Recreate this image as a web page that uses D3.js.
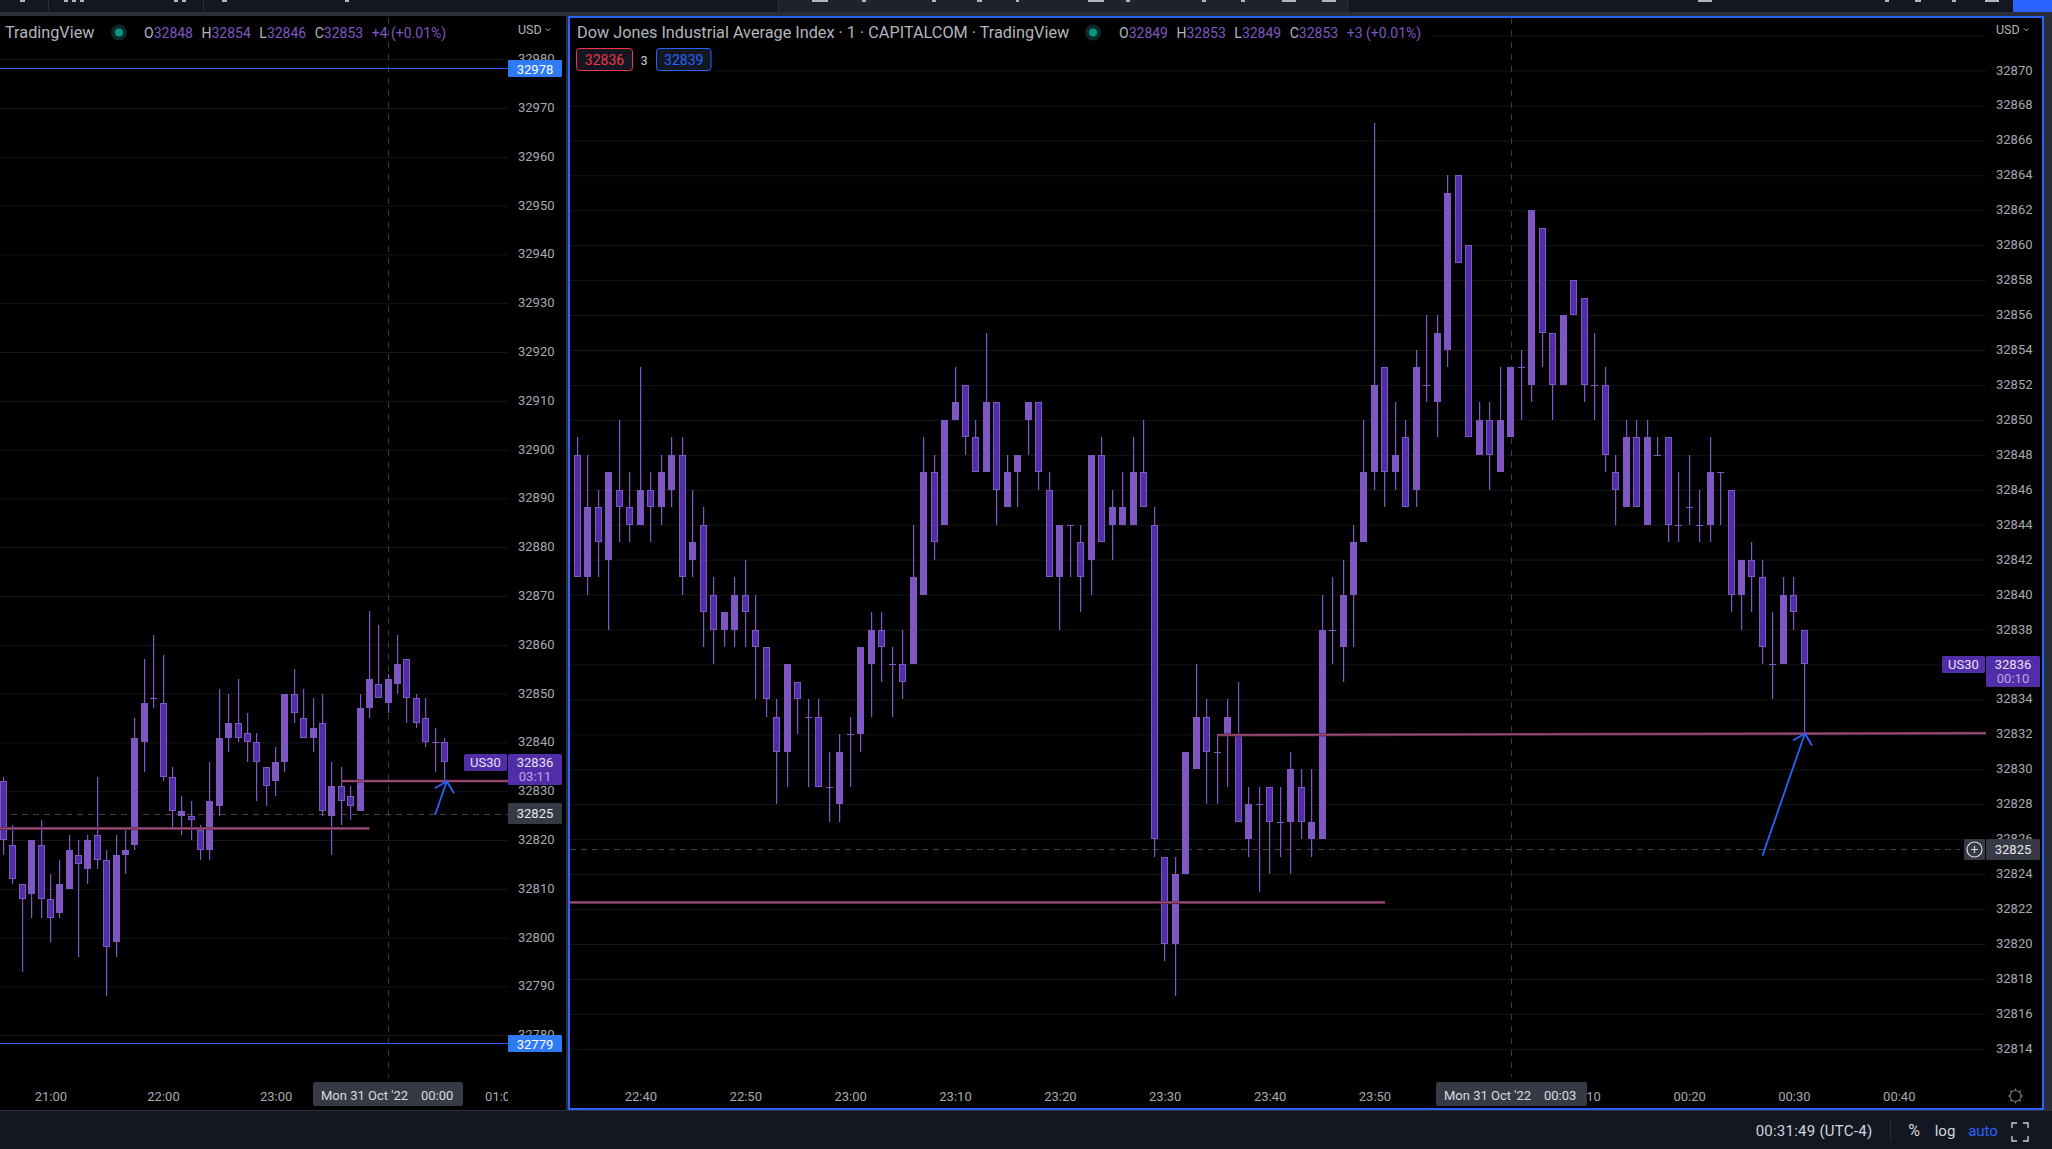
<!DOCTYPE html>
<html><head><meta charset="utf-8">
<script src="https://cdn.jsdelivr.net/npm/d3@7/dist/d3.min.js"></script>
<style>
html,body{margin:0;padding:0;background:#131722;overflow:hidden}
svg{display:block}
text{font-family:Roboto,"Liberation Sans",sans-serif}
.px text{font-size:13px;fill:#a6a9b1}
.px line,.px path,.tx line,.tx path{display:none}
.tx text{font-size:13px;fill:#a6a9b1}
.grid line{stroke:#161618;stroke-width:1}
.grid path,.grid text{display:none}
</style></head><body><div id="c"></div>
<script>
// ---------- right pane: 1 minute candles from 22:33 ----------
const rOpen=[32848,32848,32841,32845,32842,32846,32845,32844,32846,32845,32846,32848,32842,32844,32840,32838,32838,32840,32838,32837,32833,32831,32835,32833,32833,32829,32828,
32832,32832,32836,32838,32836,32836,32836,32840,32847,32844,32850,32852,32849,32847,32851,32845,32847,32850,32851,32846,32841,32844,32843,32842,32848,32844,32844,32844,32847,32844,32825,32820,32824,32830,32833,32831,32832,32832,32826,32828,32829,32827,32827,32829,32826,32826,32838,32837,32840,32843,32847,32853,32847,32849,32846,32852,32851,32854,32864,32860,
32848,32850,32847,32849,32853,32852,32861,32855,32852,32858,32857,32852,32852,32847,32845,32849,32844,32848,32849,32844,32845,32844,32844,32847,32846,32840,32842,32841,32836,32836,32840,32838];
const rHigh=[32848,32849,32848,32846,32847,32850,32847,32853,32847,32848,32849,32849,32846,32845,32841,32839,32841,32842,32840,32837,32834,32836,32835,32834,32834,32831,32832,
32833,32837,32839,32839,32837,32838,32844,32849,32848,32850,32853,32852,32850,32855,32851,32848,32848,32851,32851,32847,32844,32844,32844,32848,32849,32846,32847,32849,32850,32845,32825,32825,32831,32836,32834,32832,32834,32835,32829,32829,32829,32829,32831,32830,32830,32840,32841,32842,32844,32850,32867,32853,32851,32850,32854,32856,32856,32864,32864,32860,
32851,32851,32853,32853,32854,32862,32861,32855,32856,32858,32857,32855,32853,32848,32850,32850,32850,32849,32849,32847,32848,32846,32849,32847,32846,32842,32843,32842,32839,32841,32841,32838];
const rLow=[32840,32841,32840,32841,32838,32843,32843,32844,32843,32844,32845,32840,32841,32837,32836,32837,32837,32837,32834,32833,32828,32829,32832,32829,32829,32827,32827,
32829,32831,32833,32835,32833,32834,32836,32840,32842,32844,32850,32848,32847,32847,32844,32845,32845,32848,32846,32841,32838,32841,32839,32840,32843,32842,32844,32844,32845,32825,32819,32817,32824,32830,32828,32828,32829,32827,32825,32823,32824,32825,32824,32826,32825,32826,32836,32835,32837,32843,32846,32845,32846,32845,32845,32851,32849,32853,32859,32849,
32848,32846,32847,32849,32850,32851,32853,32850,32852,32856,32851,32850,32847,32844,32845,32845,32844,32848,32843,32843,32844,32843,32843,32844,32839,32838,32839,32836,32834,32836,32838,32832];
const rClose=[32840,32841,32845,32843,32847,32845,32844,32846,32845,32847,32848,32841,32843,32839,32838,32839,32840,32839,32837,32834,32831,32836,32834,32833,32829,32829,32831,
32832,32837,32838,32837,32836,32835,32841,32847,32843,32850,32851,32849,32847,32851,32846,32847,32848,32851,32847,32841,32844,32844,32841,32848,32843,32845,32845,32847,32845,32826,32820,32824,32831,32833,32831,32831,32833,32827,32828,32828,32827,32827,32830,32827,32827,32838,32838,32840,32843,32847,32852,32847,32848,32845,32853,32852,32855,32863,32859,32849,
32850,32848,32850,32853,32853,32862,32855,32852,32856,32856,32852,32852,32848,32846,32849,32845,32849,32848,32844,32844,32845,32844,32847,32847,32840,32842,32841,32837,32836,32840,32839,32836];
// ---------- left pane: 5 minute candles from 20:35 ----------
const lOpen=[32832,32819,32811,32809,32819,32808,32805,32810,32817,32814,32821,32816,32799,32817,32819,32840,32849,32848,32833,32825,32825,32822,32818,32827,32841,32844,32842,32840,32835,32832,32836,32850,32845,32841,32844,32825,32831,32829,32826,32847,32852,32848,32852,32857,32849,32845,32840,32840];
const lHigh=[32833,32823,32811,32820,32824,32813,32816,32821,32820,32821,32833,32818,32821,32822,32845,32857,32862,32858,32835,32829,32828,32823,32836,32851,32850,32853,32846,32842,32835,32839,32850,32855,32851,32849,32850,32836,32835,32831,32850,32867,32864,32854,32862,32857,32850,32849,32843,32841];
const lLow=[32817,32811,32793,32804,32804,32799,32804,32810,32796,32811,32814,32788,32796,32813,32818,32834,32847,32832,32822,32821,32820,32816,32816,32825,32838,32840,32836,32828,32827,32829,32834,32844,32841,32838,32825,32817,32823,32824,32826,32845,32849,32846,32850,32844,32843,32839,32834,32832];
const lClose=[32820,32812,32808,32820,32808,32804,32811,32818,32815,32820,32816,32798,32817,32818,32841,32848,32849,32833,32826,32826,32824,32818,32828,32841,32844,32841,32840,32836,32831,32836,32850,32846,32841,32843,32826,32831,32828,32827,32847,32853,32849,32853,32856,32849,32844,32840,32840,32836];
// ---------- ticks and labels ----------
const rPriceTicks=[32870,32868,32866,32864,32862,32860,32858,32856,32854,32852,32850,32848,32846,32844,32842,32840,32838,32836,32834,32832,32830,32828,32826,32824,32822,32820,32818,32816,32814];
const rGridExtra=[32872];
const lPriceTicks=[32980,32970,32960,32950,32940,32930,32920,32910,32900,32890,32880,32870,32860,32850,32840,32830,32820,32810,32800,32790,32780];
const rTimeTicks=[[22,40],[22,50],[23,0],[23,10],[23,20],[23,30],[23,40],[23,50],[24,10],[24,20],[24,30],[24,40]];
const lTimeTicks=[[21,0],[22,0],[23,0],[25,0]];
const markPrice=32825.42;
const lastPrice="32836", lowerLine=32822.38, upperLineA=32831.96, upperLineB=32832.07;
const lRangeTop=32978.1, lRangeBottom=32778.5;

const T=(h,m)=>new Date(Date.UTC(2022,9,30,h,m));
const C={up:"#7e57c2",down:"#512da8",wick:"#7e57c2",pink:"#9e4b78",pinkDark:"#4a2238",blue:"#2962ff",box:"#363a45",cross:"#3b3b3f",bar:"#131722",sep:"#2a2e39",txt:"#b2b5be"};
const W=2052,H=1149;
const svg=d3.select("#c").append("svg").attr("width",W).attr("height",H);
const defs=svg.append("defs");
defs.append("clipPath").attr("id","cl").append("rect").attr("x",0).attr("y",16).attr("width",508).attr("height",1094);
defs.append("clipPath").attr("id","cr").append("rect").attr("x",570).attr("y",18).attr("width",1416).attr("height",1090);
defs.append("clipPath").attr("id","clx").append("rect").attr("x",0).attr("y",1070).attr("width",508).attr("height",40);

// frame
svg.append("rect").attr("width",W).attr("height",H).attr("fill",C.bar);
svg.append("rect").attr("y",12).attr("width",W).attr("height",4).attr("fill",C.sep);
svg.append("rect").attr("x",0).attr("y",16).attr("width",566).attr("height",1094).attr("fill","#000");
svg.append("rect").attr("x",566).attr("y",16).attr("width",2).attr("height",1094).attr("fill","#2a2e39");
svg.append("rect").attr("x",568).attr("y",16).attr("width",1476).attr("height",1094).attr("fill","#000");
svg.append("rect").attr("x",2044).attr("y",12).attr("width",8).attr("height",1098).attr("fill",C.sep);
svg.append("rect").attr("y",1110).attr("width",W).attr("height",1).attr("fill",C.sep);

const xL=d3.scaleUtc().domain([T(21,0),T(25,0)]).range([50.4,500.8]);
const xR=d3.scaleUtc().domain([T(22,40),T(24,40)]).range([640.4,1898.8]);
const yL=d3.scaleLinear().domain([32870,32780]).range([596,1035.2]);
const yR=d3.scaleLinear().domain([32868,32814]).range([105.4,1048.8]);

function pane(o){
  const g=svg.append("g");
  g.append("g").attr("class","grid").attr("transform",`translate(${o.x0},0)`)
   .call(d3.axisRight(o.y).tickValues(o.gridTicks).tickSize(o.x1-o.x0).tickFormat(""));
  g.append("line").attr("x1",o.cross).attr("x2",o.cross).attr("y1",18).attr("y2",1077)
   .attr("stroke",C.cross).attr("stroke-dasharray","6 6");
  g.append("line").attr("x1",o.x0).attr("x2",o.dashEnd).attr("y1",Math.round(o.y(markPrice))+.5).attr("y2",Math.round(o.y(markPrice))+.5)
   .attr("stroke","#44444a").attr("stroke-dasharray","6 5");
  const cg=g.append("g").attr("clip-path",`url(#${o.clip})`);
  const data=d3.range(o.open.length).map(i=>({t:new Date(+o.t0+i*o.step*60000),o:o.open[i],h:o.high[i],l:o.low[i],c:o.close[i]}));
  const sel=cg.selectAll("g.c").data(data).join("g").attr("class","c");
  const fx=d=>Math.floor(o.x(d.t));
  sel.append("rect").attr("x",fx).attr("width",1.2)
     .attr("y",d=>Math.round(o.y(d.h))).attr("height",d=>Math.max(1,Math.round(o.y(d.l))-Math.round(o.y(d.h))))
     .attr("fill",C.wick);
  sel.each(function(d){
    const s=d3.select(this),x=fx(d),top=Math.round(o.y(Math.max(d.o,d.c))),bot=Math.round(o.y(Math.min(d.o,d.c)));
    if(d.o===d.c){ s.append("rect").attr("x",x-3).attr("y",top).attr("width",7).attr("height",1).attr("fill",C.wick); }
    else if(d.c>d.o){ s.append("rect").attr("x",x-3).attr("y",top).attr("width",7).attr("height",bot-top).attr("fill",C.up); }
    else { s.append("rect").attr("x",x-2.5).attr("y",top+.5).attr("width",6).attr("height",bot-top-1).attr("fill",C.down).attr("stroke",C.up); }
  });
  o.pink.forEach(p=>{
    [[3,C.pinkDark],[1.6,C.pink]].forEach(([w,col])=>{
      cg.append("line").attr("x1",o.x(p[0])).attr("x2",o.x(p[2])).attr("y1",o.y(p[1])).attr("y2",o.y(p[3])).attr("stroke",col).attr("stroke-width",w);
    });
  });
  const a=o.arrow, tx=o.x(a[2])+.5, ty=o.y(a[3]);
  const ar=g.append("g").attr("fill","none").attr("stroke",C.blue).attr("stroke-width",1.8);
  ar.append("line").attr("x1",o.x(a[0])).attr("y1",o.y(a[1])).attr("x2",tx).attr("y2",ty);
  ar.append("path").attr("d",`M${tx-12},${ty+7}L${tx},${ty}L${tx+7},${ty+12}`);
  g.append("g").attr("class","px").attr("transform",`translate(${o.x1},-0.6)`)
   .call(d3.axisRight(o.y).tickValues(o.priceTicks).tickSize(0).tickPadding(10).tickFormat(d3.format("d")));
  const tw=g.append("g").attr("clip-path",o.timeClip||null);
  tw.append("g").attr("class","tx").attr("transform","translate(0,1087)")
   .call(d3.axisBottom(o.x).tickValues(o.timeTicks.map(t=>T(t[0],t[1]))).tickSize(0).tickPadding(5).tickFormat(d3.utcFormat("%H:%M")));
}
pane({x0:0,x1:508,y:yL,x:xL,gridTicks:lPriceTicks,priceTicks:lPriceTicks,cross:388.5,dashEnd:508,clip:"cl",timeClip:"url(#clx)",
  open:lOpen,high:lHigh,low:lLow,close:lClose,t0:T(20,35),step:5,timeTicks:lTimeTicks,
  pink:[[T(20,0),lowerLine,T(23,50),lowerLine],[T(23,35),upperLineB,T(25,30),upperLineB]],
  arrow:[T(24,25),32825.2,T(24,31),32832.05]});
pane({x0:570,x1:1986,y:yR,x:xR,gridTicks:rPriceTicks.concat(rGridExtra),priceTicks:rPriceTicks,cross:1511.5,dashEnd:1960,clip:"cr",
  open:rOpen,high:rHigh,low:rLow,close:rClose,t0:T(22,33),step:1,timeTicks:rTimeTicks,
  pink:[[T(20,0),lowerLine,T(23,51),lowerLine],[T(23,35),upperLineA,T(24,50),upperLineB]],
  arrow:[T(24,27),32825.05,T(24,31),32832.05]});

[[lRangeTop,"32978"],[lRangeBottom,"32779"]].forEach(([p,t])=>{
  const y=Math.round(yL(p));
  svg.append("line").attr("x1",0).attr("x2",508).attr("y1",y+.5).attr("y2",y+.5).attr("stroke",C.blue);
  svg.append("rect").attr("x",508).attr("y",y-8).attr("width",54).attr("height",17).attr("rx",1).attr("fill","#2f7bf5");
  svg.append("text").attr("x",535).attr("y",y+5.5).attr("text-anchor","middle").attr("font-size",13).attr("fill","#fff").text(t);
});
function tag(x,y,w,h,col,lines,anchorX){
  svg.append("rect").attr("x",x).attr("y",y).attr("width",w).attr("height",h).attr("rx",1.5).attr("fill",col);
  lines.forEach(l=>svg.append("text").attr("x",anchorX).attr("y",l[1]).attr("text-anchor","middle").attr("font-size",13).attr("fill",l[2]).text(l[0]));
}
tag(464,754,43,17,C.down,[["US30",767,"#e6e0f4"]],485.5);
tag(508,754,54,31,C.down,[[lastPrice,767,"#e6e0f4"],["03:11",781,"#b9a8e0"]],535);
tag(508,803,54,21,C.box,[["32825",818,"#e8e9ec"]],535);
tag(1942,656,43,17,C.down,[["US30",669,"#e6e0f4"]],1963.5);
tag(1986,656,54,31,C.down,[[lastPrice,669,"#e6e0f4"],["00:10",683,"#b9a8e0"]],2013);
tag(1986,839,54,21,C.box,[["32825",854,"#e8e9ec"]],2013);
svg.append("rect").attr("x",1964).attr("y",839).attr("width",21).attr("height",21).attr("rx",1.5).attr("fill",C.box);
svg.append("circle").attr("cx",1974.5).attr("cy",849.5).attr("r",7.5).attr("fill","none").attr("stroke","#d8dae0").attr("stroke-width",1.2);
svg.append("path").attr("d","M1971,849.5H1978M1974.5,846V853").attr("stroke","#d8dae0").attr("stroke-width",1.2);

[[313,150,"Mon 31 Oct '22","00:00",321,421],[1436,151,"Mon 31 Oct '22","00:03",1444,1544]].forEach(b=>{
  svg.append("rect").attr("x",b[0]).attr("y",1082).attr("width",b[1]).attr("height",24).attr("rx",2).attr("fill",C.box);
  svg.append("text").attr("x",b[4]).attr("y",1100).attr("font-size",13).attr("fill","#d8dae0").text(b[2]);
  svg.append("text").attr("x",b[5]).attr("y",1100).attr("font-size",13).attr("fill","#d8dae0").text(b[3]);
});

svg.append("rect").attr("x",570).attr("y",18).attr("width",860).attr("height",30).attr("fill","#000");
svg.append("rect").attr("x",570).attr("y",46).attr("width",145).attr("height",30).attr("fill","#000");
function legend(x,y,parts){
  const t=svg.append("text").attr("x",x).attr("y",y).attr("font-size",14);
  parts.forEach(p=>{t.append("tspan").attr("fill",p[1]).attr("dx",p[2]||0).text(p[0]);});
}
svg.append("text").attr("x",5).attr("y",38).attr("font-size",16.25).attr("fill",C.txt).text("TradingView");
svg.append("text").attr("x",577).attr("y",38).attr("font-size",16.25).attr("fill",C.txt).text("Dow Jones Industrial Average Index · 1 · CAPITALCOM · TradingView");
[[119,32.5],[1093,32.5]].forEach(d=>{
  svg.append("circle").attr("cx",d[0]).attr("cy",d[1]).attr("r",8).attr("fill","#0c2b28");
  svg.append("circle").attr("cx",d[0]).attr("cy",d[1]).attr("r",4).attr("fill","#089981");
});
const P="#7e57c2";
legend(144,38,[["O",C.txt],["32848",P],["H",C.txt,8.5],["32854",P],["L",C.txt,8.5],["32846",P],["C",C.txt,8.5],["32853",P],["+4 (+0.01%)",P,8.5]]);
legend(1119,38,[["O",C.txt],["32849",P],["H",C.txt,8.5],["32853",P],["L",C.txt,8.5],["32849",P],["C",C.txt,8.5],["32853",P],["+3 (+0.01%)",P,8.5]]);
[[576.5,56,"#f23645","32836"],[656.5,54.5,"#2962ff","32839"]].forEach(b=>{
  svg.append("rect").attr("x",b[0]).attr("y",48.5).attr("width",b[1]).attr("height",22).attr("rx",3).attr("fill","#131722").attr("stroke",b[2]);
  svg.append("text").attr("x",b[0]+b[1]/2).attr("y",64.5).attr("text-anchor","middle").attr("font-size",14).attr("fill",b[2]).text(b[3]);
});
svg.append("text").attr("x",644).attr("y",64.5).attr("text-anchor","middle").attr("font-size",12).attr("fill","#d1d4dc").text("3");
[[518,"USD"],[1996,"USD"]].forEach(u=>{
  svg.append("text").attr("x",u[0]).attr("y",34).attr("font-size",12.5).attr("fill",C.txt).text(u[1]);
  svg.append("path").attr("d",`M${u[0]+28},28.5l2.2,2.2l2.2,-2.2`).attr("fill","none").attr("stroke",C.txt);
});
svg.append("circle").attr("cx",2015.5).attr("cy",1096).attr("r",5.5).attr("fill","none").attr("stroke","#787b86").attr("stroke-width",1.2);
svg.append("path").attr("d","M2015.5,1088.5V1090.5M2015.5,1101.5V1103.5M2008,1096H2010M2021,1096H2023M2010.2,1090.7L2011.6,1092.1M2019.4,1099.9L2020.8,1101.3M2020.8,1090.7L2019.4,1092.1M2011.6,1099.9L2010.2,1101.3").attr("stroke","#787b86").attr("stroke-width",1.2);
svg.append("rect").attr("x",569).attr("y",17).attr("width",1474).attr("height",1092).attr("fill","none").attr("stroke",C.blue).attr("stroke-width",2);

const bt=(x,t,col,fs)=>svg.append("text").attr("x",x).attr("y",1136).attr("font-size",fs||15).attr("text-anchor","middle").attr("fill",col||"#d1d4dc").text(t);
bt(1814,"00:31:49 (UTC-4)").attr("letter-spacing",.25);
svg.append("line").attr("x1",1890.5).attr("x2",1890.5).attr("y1",1120).attr("y2",1141).attr("stroke",C.sep);
bt(1914,"%",null,16); bt(1945,"log"); bt(1983,"auto","#2962ff");
svg.append("path").attr("d","M2012,1128v-5h5M2023,1123h5v5M2028,1136v5h-5M2017,1141h-5v-5").attr("fill","none").attr("stroke","#d1d4dc").attr("stroke-width",1.3);

svg.append("path").attr("d","M778,0V9a4,4 0 0 0 4,4H1344a4,4 0 0 0 4,-4V0Z").attr("fill","#1e222d").attr("stroke","#2a2e39");
svg.append("rect").attr("x",2013).attr("y",0).attr("width",39).attr("height",12).attr("fill",C.blue);
const frag=[[20,5],[64,4],[72,4],[80,4],[174,4],[182,4],[222,5],[345,4],[812,16],[862,4],[932,4],[977,5],[1016,3],[1088,16],[1126,4],[1202,4],[1241,4],[1282,14],[1322,14],[1698,14],[1885,4],[1915,6],[1952,4],[1985,14]];
frag.forEach(f=>svg.append("rect").attr("x",f[0]).attr("y",0).attr("width",f[1]).attr("height",2).attr("fill","#b2b5be"));
[48,203].forEach(x=>svg.append("rect").attr("x",x).attr("y",0).attr("width",1).attr("height",11).attr("fill",C.sep));
</script></body></html>
